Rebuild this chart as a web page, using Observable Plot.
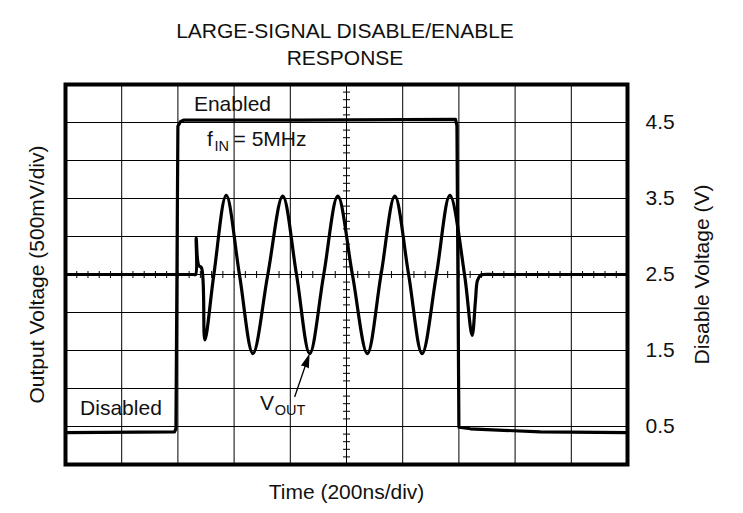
<!DOCTYPE html>
<html><head><meta charset="utf-8">
<script src="https://cdn.jsdelivr.net/npm/d3@7"></script>
<script src="https://cdn.jsdelivr.net/npm/@observablehq/plot@0.6"></script>
<style>
body{margin:0;background:#fff;font-family:"Liberation Sans",Arial,sans-serif;}
#title{width:690px;height:71px;box-sizing:border-box;padding-top:17px;text-align:center;font-size:21px;line-height:27px;color:#111;}
#chart svg{display:block}
</style></head><body>
<div id="title">LARGE-SIGNAL DISABLE/ENABLE<br>RESPONSE</div>
<div id="chart"></div>
<script>
// ---- axes / grid ----
const timeGrid = [0, 200, 400, 600, 800, 1000, 1200, 1400, 1600, 1800, 2000]; // ns, 200ns/div
const voltGrid = [0, 0.5, 1, 1.5, 2, 2.5, 3, 3.5, 4, 4.5, 5];               // V
const rightTicks = [0.5, 1.5, 2.5, 3.5, 4.5];
const minorTimeTicks = d3.range(40, 2000, 40);   // minor ticks on the centre horizontal line
const minorVoltTicks = d3.range(0.1, 5, 0.1);    // minor ticks on the centre vertical line
const centerTime = 1000, centerVolt = 2.5;

// ---- disable/enable voltage trace ----
const enableTime = [0, 388, 393, 400, 409, 420, 836, 1388, 1393, 1400, 1441, 1559, 1690, 2000];
const enableVolt = [0.42, 0.43, 0.47, 4.45, 4.51, 4.53, 4.53, 4.54, 4.46, 0.49, 0.47, 0.45, 0.43, 0.42];

// ---- output voltage trace (5MHz) ----
const voutTime = [0, 455, 463, 465, 474, 484, 496, 528, 572, 619, 667, 720, 773, 822, 869, 919, 969, 1021, 1074, 1123, 1172, 1221, 1269, 1320, 1368, 1420, 1447, 1459, 1466, 1477, 1488, 1530, 2000];
const voutVolt = [2.5, 2.5, 2.5, 2.98, 2.62, 2.59, 1.64, 2.5, 3.54, 2.5, 1.46, 2.5, 3.53, 2.5, 1.46, 2.5, 3.53, 2.5, 1.46, 2.5, 3.53, 2.5, 1.46, 2.5, 3.54, 2.5, 1.70, 2.16, 2.42, 2.49, 2.5, 2.5, 2.5];

// ---- annotations ----
const annText = ["Enabled", "f", "IN", "= 5MHz", "Disabled", "V", "OUT"];
const annTime = [457, 504, 530, 598, 52, 692, 745];
const annVolt = [4.654, 4.19, 4.12, 4.19, 0.645, 0.717, 0.645];
const annSize = [21, 21, 14.5, 21, 21, 21, 14.5];
const arrowFrom = {t: 816, v: 0.895};
const arrowTo = {t: 866, v: 1.434};

const enable = enableTime.map((t, i) => ({t, v: enableVolt[i]}));
const vout = voutTime.map((t, i) => ({t, v: voutVolt[i]}));
const ann = annText.map((text, i) => ({text, t: annTime[i], v: annVolt[i], size: annSize[i]}));

const hTick = {draw(ctx) { ctx.moveTo(-3.5, 0); ctx.lineTo(3.5, 0); }};
const vTick = {draw(ctx) { ctx.moveTo(0, -3.5); ctx.lineTo(0, 3.5); }};

const chart = Plot.plot({
  width: 743,
  height: 442,
  marginTop: 13,
  marginBottom: 49,
  marginLeft: 65,
  marginRight: 116,
  style: {fontFamily: "'Liberation Sans', Arial, sans-serif", fontSize: "21px", color: "#111", background: "#fff"},
  x: {domain: [0, 2000], axis: null},
  y: {domain: [0, 5]},
  marks: [
    Plot.gridX(timeGrid, {stroke: "#000", strokeOpacity: 1, strokeWidth: 1}),
    Plot.gridY(voltGrid, {stroke: "#000", strokeOpacity: 1, strokeWidth: 1}),
    Plot.dot(minorVoltTicks, {x: () => centerTime, y: d => d, symbol: hTick, stroke: "#000", fill: "none", strokeWidth: 1}),
    Plot.dot(minorTimeTicks, {x: d => d, y: () => centerVolt, symbol: vTick, stroke: "#000", fill: "none", strokeWidth: 1}),
    Plot.axisY({anchor: "right", ticks: rightTicks, tickFormat: d => d.toFixed(1), tickSize: 0, tickPadding: 18, label: null, fontSize: 21}),
    Plot.line(vout, {x: "t", y: "v", curve: "catmull-rom", stroke: "#000", strokeWidth: 3.2, strokeLinejoin: "round"}),
    Plot.line(enable, {x: "t", y: "v", stroke: "#000", strokeWidth: 3.2, strokeLinejoin: "round"}),
    Plot.frame({stroke: "#000", strokeWidth: 4}),
    Plot.text(ann, {x: "t", y: "v", text: "text", fontSize: "size", textAnchor: "start", lineAnchor: "bottom", fill: "#111"}),
    Plot.arrow([{...arrowFrom, t2: arrowTo.t, v2: arrowTo.v}], {x1: "t", y1: "v", x2: "t2", y2: "v2", stroke: "#000", strokeWidth: 1.3, headLength: 14, headAngle: 32}),
    Plot.text(["Output Voltage (500mV/div)"], {frameAnchor: "left", textAnchor: "middle", rotate: -90, dx: -28, fontSize: 21, fill: "#111"}),
    Plot.text(["Disable Voltage (V)"], {frameAnchor: "right", textAnchor: "middle", rotate: -90, dx: 75, fontSize: 21, fill: "#111"}),
    Plot.text(["Time (200ns/div)"], {frameAnchor: "bottom", lineAnchor: "bottom", dy: 34, fontSize: 21, fill: "#111"})
  ]
});
document.getElementById("chart").appendChild(chart);
d3.select(chart).selectAll('g[aria-label="arrow"] path').attr("fill", "#000");
</script></body></html>
